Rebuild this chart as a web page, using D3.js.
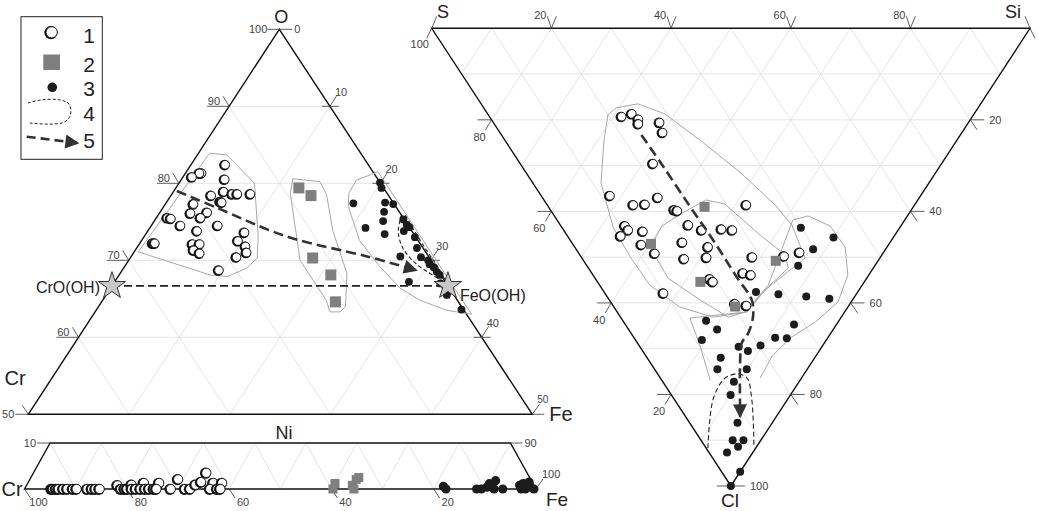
<!DOCTYPE html>
<html><head><meta charset="utf-8">
<script src="https://cdn.jsdelivr.net/npm/d3@7"></script>
<style>body{margin:0;background:#fff}svg{display:block}text{font-family:Arial,"Liberation Sans",sans-serif}</style>
</head><body>
<svg id="c" width="1038" height="511"></svg>
<script>
// ---------- DATA ----------
// Left ternary (O–Cr–Fe, O >= 50): [O, Fe]
const leftGroup1 = [[82.4,3.4],[81.3,1.6],[81.3,1.4],[80.8,0.9],[80.5,4.3],[78.9,5.0],[78.4,4.0],[78.6,6.0],[78.6,6.5],[78.6,7.8],[77.6,5.3],[77.5,5.5],[77.3,2.8],[76.1,3.1],[76.2,4.7],[75.5,4.4],[75.5,1.1],[75.4,1.5],[74.5,2.9],[74.5,6.6],[73.8,4.9],[73.6,9.7],[72.2,1.3],[72.2,1.5],[72.1,5.3],[72.1,6.0],[72.5,9.6],[71.8,10.7],[71.3,5.8],[70.9,6.6],[71.0,11.2],[70.4,10.5],[68.7,9.6]];
const leftGroup2 = [[79.4,12.2],[78.4,13.9],[70.3,18.1],[68.1,21.0],[64.6,23.2]];
const leftGroup3 = [[80.1,19.9],[79.4,20.4],[77.4,18.6],[77.5,21.7],[77.3,22.6],[76.3,22.2],[75.3,24.6],[75.1,22.7],[74.6,25.3],[74.3,25.7],[73.8,25.4],[74.2,21.4],[73.4,23.7],[73.0,26.9],[71.6,27.8],[70.5,26.7],[70.4,28.8],[70.0,29.7],[69.5,30.1],[69.1,30.7],[68.5,31.3],[68.1,31.8],[67.2,29.2],[67.0,32.4],[66.6,33.1],[65.9,33.7],[65.5,33.8],[63.6,36.2]];
const leftHull1 = [[83.9,1.1],[83.7,2.9],[80.0,7.5],[73.1,11.3],[70.3,12.6],[69.0,12.2],[67.9,10.9],[68.1,9.0],[71.1,0.4]];
const leftHull2 = [[80.6,11.0],[80.2,13.9],[78.5,15.4],[73.9,18.3],[68.3,22.5],[64.0,24.5],[63.3,24.3],[63.3,23.3],[64.8,22.2],[70.0,17.0],[78.7,11.7]];
const leftHull3 = [[80.4,17.4],[81.5,19.0],[63.0,37.5],[63.5,34.8],[64.8,31.5],[66.4,28.7],[69.2,25.3],[72.6,21.6],[77.0,18.3],[78.7,17.5]];
const leftLoop4 = [[76.0,24.1],[73.7,24.9],[71.6,26.4],[69.8,28.4],[68.5,30.4],[67.3,32.7],[68.7,31.5],[71.6,28.6],[74.7,25.6],[76.0,24.4]];
const leftTrend5 = [[79.0,0.3],[76.8,5.4],[73.1,14.1],[70.5,23.4],[68.7,29.2]];
const phases = [{name:"CrO(OH)", O:66.67, Fe:0},{name:"FeO(OH)", O:66.67, Fe:33.33}];
const leftTicksO = [90,80,70,60];
const leftTicksFe = [10,20,30,40];

// Right ternary (S–Si–Cl): [Si, Cl]
const rightGroup1 = [[22.1,19.3],[24.1,18.7],[24.6,19.9],[24.1,20.9],[27.8,20.6],[27.2,22.8],[22.2,29.6],[11.5,36.6],[14.4,38.6],[16.4,38.5],[19.3,37.0],[20.7,39.7],[21.1,39.9],[21.4,43.0],[23.1,44.1],[26.5,43.9],[28.2,44.1],[33.3,38.6],[10.7,43.2],[10.8,44.1],[8.9,45.4],[13.1,44.4],[11.4,47.3],[12.7,49.2],[18.5,46.8],[22.3,47.8],[20.9,50.1],[17.0,50.4],[28.6,50.0],[25.3,53.5],[26.4,53.9],[19.1,54.8],[19.3,55.4],[9.8,57.9],[20.6,60.2],[22.3,60.6],[34.0,49.8],[37.0,49.0]];
const rightGroup2 = [[26.1,39.0],[13.1,47.1],[17.2,55.4],[32.1,50.8],[20.3,60.8]];
const rightGroup3 = [[39.9,43.6],[44.3,45.7],[39.6,48.3],[35.3,51.9],[25.4,57.6],[28.9,58.1],[33.3,58.6],[36.9,59.1],[13.9,63.9],[14.8,65.8],[28.2,64.7],[23.6,67.6],[25.5,67.7],[11.1,68.1],[16.5,69.6],[17.6,70.5],[20.3,69.3],[12.3,72.0],[10.5,74.5],[15.4,74.5],[11.9,77.2],[9.9,80.1],[8.0,86.2],[5.3,90.0],[7.1,90.0],[5.5,91.4],[3.0,92.7],[3.1,96.9],[0,100]];
const rightHull1 = [[22.1,17.4],[26.2,16.5],[29.6,18.7],[32.6,24.4],[35.8,31.4],[38.1,38.6],[38.7,43.0],[37.3,50.2],[27.1,57.2],[21.7,62.0],[15.5,63.1],[11.0,60.9],[8.4,56.1],[8.2,50.0],[8.6,43.4],[11.4,33.8],[16.6,24.4],[20.0,18.9]];
const rightHull2 = [[12.6,47.8],[16.9,43.2],[21.6,40.4],[27.1,37.5],[29.8,38.4],[32.3,45.2],[34.3,49.5],[33.4,52.4],[28.5,56.1],[21.4,62.0],[18.0,63.1],[15.2,59.4],[12.2,54.6]];
const rightHull3 = [[8.1,76.9],[10.2,69.2],[11.5,63.3],[21.4,62.0],[28.2,56.1],[39.4,41.9],[42.4,41.0],[45.0,43.2],[45.2,47.8],[42.6,53.9],[38.0,59.8],[32.0,64.2],[26.5,67.4],[21.1,71.6],[16.7,76.4]];
const rightLoop4 = [[0.3,91.7],[6.4,81.2],[10.3,76.8],[12.0,75.8],[13.4,75.5],[14.5,76.4],[12.9,81.2],[8.1,91.5]];
const rightTrend5 = [[23.4,23.3],[23.6,30.2],[23.7,39.0],[23.9,46.3],[23.8,54.3],[23.8,59.4],[22.2,63.0],[19.6,66.6],[17.4,68.8],[15.3,72.5],[12.7,77.6],[9.1,84.9]];
const topTicksSi = [20,40,60,80];
const leftTicksS = [80,60,40,20];
const rightTicksCl = [20,40,60,80];

// Bottom strip (Cr–Fe–Ni, Ni <= 10): [Fe, Ni]
const stripGroup1 = [[5.3,0],[5.6,0],[6.2,0],[6.7,0],[7.6,0],[8.4,0],[9.5,0],[10.2,0],[12.3,0],[13.2,0],[13.9,0],[14.7,0],[17.8,0.8],[18.9,0],[19.6,0],[20.1,0],[20.5,0.9],[21.0,0],[21.8,0],[22.7,1.3],[22.7,0],[23.6,0],[24.4,0],[25.7,1.3],[25.3,0],[25.8,0],[28.6,0],[29.0,2.1],[31.4,0],[32.4,0],[33.0,0.9],[33.8,3.5],[33.8,1.5],[36.3,1.3],[36.3,0],[37.7,0],[38.0,1.3],[38.3,0]];
const stripGroup2 = [[60.1,1.2],[60.3,0],[63.8,2.1],[64.1,2.5],[63.7,0.8],[64.4,0]];
const stripGroup3 = [[81.6,0.6],[82.4,0],[88.4,0],[89.3,0],[90.2,0.4],[90.3,1.15],[91.2,1.8],[91.8,0],[93.5,0],[96.4,0.8],[96.9,1.2],[97.1,0],[97.8,0.8],[97.9,0],[97.9,1.5],[98.7,0.4],[99.6,0]];
const stripTicksCr = [100,80,60,40,20];

// ---------- SCALES ----------
const svg = d3.select('#c');
const oY = d3.scaleLinear().domain([50,100]).range([414.3,29.3]);
const oEdgeX = d3.scaleLinear().domain([50,100]).range([28.3,279.3]);
const feW = d3.scaleLinear().domain([0,50]).range([0,504]);
const L = (o,fe) => [oEdgeX(o)+feW(fe), oY(o)];

const clY = d3.scaleLinear().domain([0,100]).range([28.3,486]);
const clEdgeX = d3.scaleLinear().domain([0,100]).range([431.7,730.9]);
const siW = d3.scaleLinear().domain([0,100]).range([0,598.3]);
const R = (si,cl) => [clEdgeX(cl)+siW(si), clY(cl)];

const niY = d3.scaleLinear().domain([0,10]).range([489,443]);
const fX = d3.scaleLinear().domain([0,100]).range([24.5,536]);
const B = (fe,ni) => [fX(fe+ni/2), niY(ni)];

// ---------- DEFS ----------
const defs = svg.append('defs');
defs.append('marker').attr('id','ah').attr('viewBox','0 0 10 10').attr('refX',9).attr('refY',5)
  .attr('markerUnits','userSpaceOnUse').attr('markerWidth',18).attr('markerHeight',14).attr('orient','auto')
  .append('path').attr('d','M0,0 L10,5 L0,10 Z').attr('fill','#333');

const grid = '#e4e4e4';
function seg(g, a, b, stroke, w){ g.append('line').attr('x1',a[0]).attr('y1',a[1]).attr('x2',b[0]).attr('y2',b[1]).attr('stroke',stroke).attr('stroke-width',w||1); }
function poly(g, pts, stroke, w){ g.append('path').attr('d', d3.line()(pts)).attr('fill','none').attr('stroke',stroke).attr('stroke-width',w||1); }
function txt(g, x, y, s, size, anchor, col){ return g.append('text').attr('x',x).attr('y',y).attr('font-size',size).attr('fill', col || (size < 13 ? '#444' : '#222')).attr('text-anchor',anchor||'middle').text(s); }

function openMarks(g, data, proj, r){
  const m = g.selectAll(null).data(data).join('g').attr('transform', d => { const p = proj(d[0],d[1]); return `translate(${p[0]},${p[1]})`; });
  m.append('circle').attr('cx',-0.8).attr('cy',0.3).attr('r',r+0.6).attr('fill','#111');
  m.append('circle').attr('r',r-0.4).attr('fill','#fff').attr('stroke','#111').attr('stroke-width',0.9);
}
function squareMarks(g, data, proj, s){
  g.selectAll(null).data(data).join('rect').attr('x', d => proj(d[0],d[1])[0]-s/2).attr('y', d => proj(d[0],d[1])[1]-s/2)
    .attr('width',s).attr('height',s).attr('fill','#7f7f7f');
}
function dotMarks(g, data, proj, r){
  g.selectAll(null).data(data).join('circle').attr('cx', d => proj(d[0],d[1])[0]).attr('cy', d => proj(d[0],d[1])[1]).attr('r',r).attr('fill','#1c1c1c');
}

// ---------- LEFT TERNARY ----------
const gl = svg.append('g');
[60,70,80,90].forEach(o => seg(gl, L(o,0), L(o,100-o), grid));
[10,20,30,40].forEach(f => seg(gl, L(100-f,f), L(50,f), grid));
[10,20,30,40].forEach(c => seg(gl, L(100-c,0), L(50,50-c), grid));
gl.append('path').attr('d', d3.line()([L(100,0),L(50,0),L(50,50)])+'Z').attr('fill','none').attr('stroke','#111').attr('stroke-width',1.4);

leftTicksO.forEach(o => { const p = L(o,0);
  seg(gl, [p[0]-22,p[1]], p, '#333', 0.8); seg(gl, p, [p[0]-6,p[1]-10], '#333', 0.8);
  txt(gl, p[0]-9, p[1]-1, o, 11, 'end'); });
leftTicksFe.forEach(f => { const p = L(100-f,f);
  seg(gl, [p[0]-8,p[1]], [p[0]+9,p[1]], '#333', 0.8); seg(gl, p, [p[0]+7,p[1]-11], '#333', 0.8);
  txt(gl, p[0]+5, p[1]-10, f, 11, 'start'); });
{ const p = L(100,0); seg(gl,[p[0]-12,p[1]],[p[0]+13,p[1]],'#333',0.8);
  txt(gl, p[0]-12, p[1]+4, '100', 11, 'end'); txt(gl, p[0]+15, p[1]+4, '0', 11, 'start');
  txt(gl, p[0]+2, p[1]-6, 'O', 18); }
{ const p = L(50,0); seg(gl,[p[0]-13,p[1]],p,'#333',0.8); seg(gl,p,[p[0]-6,p[1]-9],'#333',0.8);
  txt(gl, p[0]-14, p[1]+4, '50', 11, 'end'); txt(gl, 15, 385, 'Cr', 20); }
{ const p = L(50,50); seg(gl,p,[p[0]+12,p[1]],'#333',0.8); seg(gl,p,[p[0]+7,p[1]-10],'#333',0.8);
  txt(gl, p[0]+5, p[1]-11, '50', 10, 'start'); txt(gl, 561, 421, 'Fe', 20); }

poly(gl, leftHull1.map(d=>L(...d)).concat([L(...leftHull1[0])]), '#a8a8a8', 1);
poly(gl, leftHull2.map(d=>L(...d)).concat([L(...leftHull2[0])]), '#a8a8a8', 1);
poly(gl, leftHull3.map(d=>L(...d)).concat([L(...leftHull3[0])]), '#a8a8a8', 1);
gl.append('path').attr('d', d3.line().curve(d3.curveCatmullRom)(leftLoop4.map(d=>L(...d))))
  .attr('fill','none').attr('stroke','#222').attr('stroke-width',1.1).attr('stroke-dasharray','4,2.5');

{ const a = L(phases[0].O, phases[0].Fe), b = L(phases[1].O, phases[1].Fe);
  gl.append('line').attr('x1',a[0]).attr('y1',a[1]).attr('x2',b[0]).attr('y2',b[1]).attr('stroke','#222').attr('stroke-width',1.8).attr('stroke-dasharray','8,4'); }

openMarks(gl, leftGroup1, L, 4.7);
squareMarks(gl, leftGroup2, L, 11);
dotMarks(gl, leftGroup3, L, 3.9);

gl.append('path').attr('d', d3.line().curve(d3.curveCatmullRom)(leftTrend5.map(d=>L(...d))))
  .attr('fill','none').attr('stroke','#333').attr('stroke-width',2.6).attr('stroke-dasharray','10,5').attr('marker-end','url(#ah)');

phases.forEach((ph,i) => { const p = L(ph.O, ph.Fe);
  gl.append('path').attr('d', d3.symbol(d3.symbolStar, 230)()).attr('transform',`translate(${p[0]},${p[1]})`)
    .attr('fill','#c8c8c8').attr('stroke','#333').attr('stroke-width',1);
  if(i===0) txt(gl, p[0]-12, p[1]+7, ph.name, 16, 'end'); else txt(gl, p[0]+12, p[1]+15, ph.name, 16, 'start'); });

// ---------- LEGEND ----------
const lg = svg.append('g');
lg.append('rect').attr('x',21).attr('y',16.7).attr('width',81.3).attr('height',142.6).attr('fill','#fff').attr('stroke','#222').attr('stroke-width',1);
openMarks(lg, [[51.7,32.3]], (x,y)=>[x,y], 6);
lg.append('rect').attr('x',43.3).attr('y',54.5).attr('width',16.7).attr('height',15.5).attr('fill','#7f7f7f');
lg.append('circle').attr('cx',52.3).attr('cy',87.3).attr('r',4.8).attr('fill','#1c1c1c');
lg.append('path').attr('d','M28,103 C40,99 60,97 68,103 C73,109 72,120 62,123 C52,125 40,124 30,123')
  .attr('fill','none').attr('stroke','#222').attr('stroke-width',1).attr('stroke-dasharray','3,2');
lg.append('path').attr('d','M26.7,136.7 L78,143').attr('fill','none').attr('stroke','#333').attr('stroke-width',2.6)
  .attr('stroke-dasharray','9,5').attr('marker-end','url(#ah)');
['1','2','3','4','5'].forEach((s,i) => txt(lg, 89, [42.5,72,95.5,121,147.5][i], s, 21));

// ---------- BOTTOM STRIP ----------
const gb = svg.append('g');
d3.range(10,100,10).forEach(k => { seg(gb, B(k,0), B(k,10), grid); seg(gb, B(100-k,0), B(90-k,10), grid); });
gb.append('path').attr('d', d3.line()([B(0,0),B(0,10),B(90,10),B(100,0)])+'Z').attr('fill','none').attr('stroke','#111').attr('stroke-width',1.4);
stripTicksCr.forEach(c => { const p = B(100-c,0); seg(gb, p, [p[0]+6,p[1]+9], '#333', 0.8);
  txt(gb, p[0]+14, p[1]+17, c, 11); });
{ const p = B(0,10); seg(gb,[p[0]-13,p[1]],p,'#333',0.8); txt(gb, p[0]-14, p[1]+4, '10', 11, 'end'); }
{ const p = B(90,10); seg(gb,p,[p[0]+12,p[1]],'#333',0.8); txt(gb, p[0]+14, p[1]+4, '90', 11, 'start'); }
{ const p = B(100,0); seg(gb,p,[p[0]+7,p[1]-10],'#333',0.8); txt(gb, p[0]+6, p[1]-11, '100', 11, 'start');
  txt(gb, 557, 506, 'Fe', 19); }
txt(gb, 12, 496, 'Cr', 20);
txt(gb, 284, 439, 'Ni', 18);
openMarks(gb, stripGroup1, B, 5);
squareMarks(gb, stripGroup2, B, 9);
dotMarks(gb, stripGroup3, B, 4.6);

// ---------- RIGHT TERNARY ----------
const gr = svg.append('g');
d3.range(10,100,10).forEach(c => seg(gr, R(0,c), R(100-c,c), grid));
d3.range(10,100,10).forEach(s => seg(gr, R(s,0), R(s,100-s), grid));
d3.range(10,100,10).forEach(v => seg(gr, R(100-v,0), R(0,100-v), grid));
gr.append('path').attr('d', d3.line()([R(0,0),R(100,0),R(0,100)])+'Z').attr('fill','none').attr('stroke','#111').attr('stroke-width',1.4);

topTicksSi.forEach(s => { const p = R(s,0);
  gr.append('path').attr('d',`M${p[0]-4},${p[1]-12} L${p[0]},${p[1]} L${p[0]+5},${p[1]-12}`).attr('fill','none').attr('stroke','#333').attr('stroke-width',0.8);
  txt(gr, p[0]-11, 19, s, 11); });
leftTicksS.forEach(v => { const p = R(0,100-v);
  seg(gr, [p[0]-14,p[1]], p, '#333', 0.8); seg(gr, p, [p[0]-6,p[1]+10], '#333', 0.8);
  txt(gr, p[0]-12, p[1]+21, v, 11); });
rightTicksCl.forEach(c => { const p = R(100-c,c);
  seg(gr, p, [p[0]+14,p[1]], '#333', 0.8); seg(gr, p, [p[0]+7,p[1]+10], '#333', 0.8);
  txt(gr, p[0]+19, p[1]+4, c, 11, 'start'); });
{ const p = R(0,0);
  gr.append('path').attr('d',`M${p[0]+5},${p[1]-12} L${p[0]},${p[1]} L${p[0]-5},${p[1]+10}`).attr('fill','none').attr('stroke','#333').attr('stroke-width',0.8);
  txt(gr, p[0]-12, p[1]+20, '100', 11); txt(gr, 443, 17.5, 'S', 18); }
{ const p = R(100,0);
  gr.append('path').attr('d',`M${p[0]-5},${p[1]-12} L${p[0]},${p[1]} L${p[0]+5},${p[1]+10}`).attr('fill','none').attr('stroke','#333').attr('stroke-width',0.8);
  txt(gr, 1013, 17.5, 'Si', 18); }
{ const p = R(0,100); seg(gr, [p[0]-14,p[1]], [p[0]+14,p[1]], '#333', 0.8);
  txt(gr, p[0]+19, p[1]+4, '100', 11, 'start'); txt(gr, p[0]-1, 507, 'Cl', 19); }

poly(gr, rightHull1.map(d=>R(...d)).concat([R(...rightHull1[0])]), '#a8a8a8', 1);
poly(gr, rightHull2.map(d=>R(...d)).concat([R(...rightHull2[0])]), '#a8a8a8', 1);
poly(gr, rightHull3.map(d=>R(...d)), '#a8a8a8', 1);
gr.append('path').attr('d', d3.line().curve(d3.curveCatmullRom)(rightLoop4.map(d=>R(...d))))
  .attr('fill','none').attr('stroke','#222').attr('stroke-width',1.1).attr('stroke-dasharray','5,3');

openMarks(gr, rightGroup1, R, 4.7);
squareMarks(gr, rightGroup2, R, 10);
dotMarks(gr, rightGroup3, R, 4);

gr.append('path').attr('d', d3.line().curve(d3.curveCatmullRom)(rightTrend5.map(d=>R(...d))))
  .attr('fill','none').attr('stroke','#333').attr('stroke-width',2.6).attr('stroke-dasharray','10,5').attr('marker-end','url(#ah)');
</script></body></html>
